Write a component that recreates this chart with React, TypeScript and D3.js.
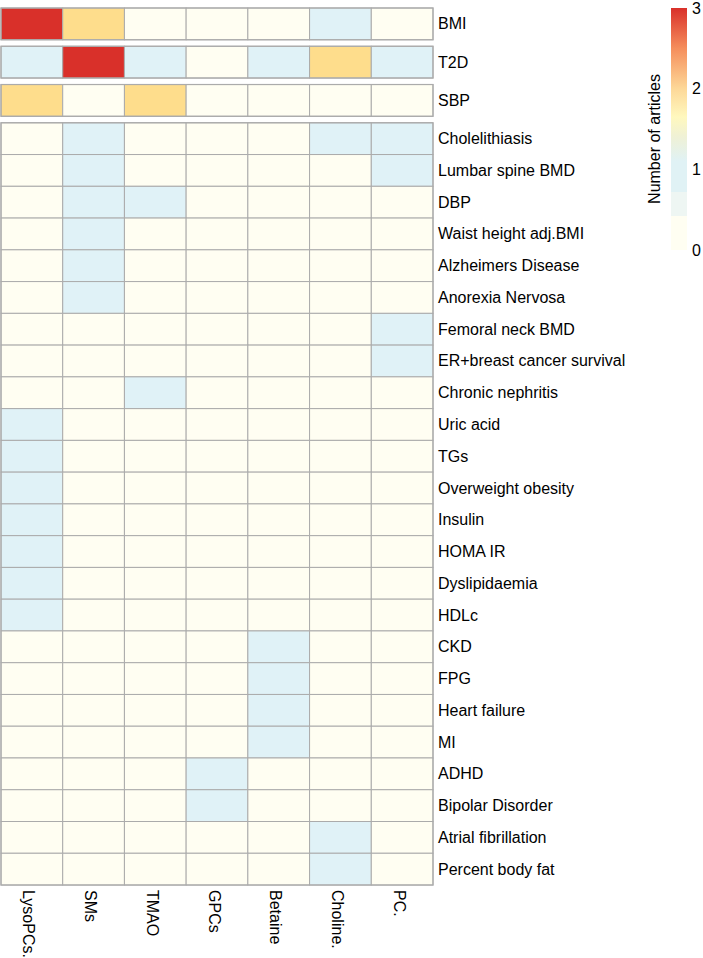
import React from "react";
import * as d3 from "d3";

const columns = ["LysoPCs.", "SMs", "TMAO", "GPCs", "Betaine", "Choline.", "PC."];

const rows = [
  "BMI", "T2D", "SBP",
  "Cholelithiasis", "Lumbar spine BMD", "DBP", "Waist height adj.BMI", "Alzheimers Disease",
  "Anorexia Nervosa", "Femoral neck BMD", "ER+breast cancer survival", "Chronic nephritis",
  "Uric acid", "TGs", "Overweight obesity", "Insulin", "HOMA IR", "Dyslipidaemia", "HDLc",
  "CKD", "FPG", "Heart failure", "MI", "ADHD", "Bipolar Disorder", "Atrial fibrillation",
  "Percent body fat",
];

// group (split) of each row
const rowGroups = [0, 1, 2, 3, 3, 3, 3, 3, 3, 3, 3, 3, 3, 3, 3, 3, 3, 3, 3, 3, 3, 3, 3, 3, 3, 3, 3];

// values[row][col]
const values = [
  [3, 2, 0, 0, 0, 1, 0],
  [1, 3, 1, 0, 1, 2, 1],
  [2, 0, 2, 0, 0, 0, 0],
  [0, 1, 0, 0, 0, 1, 1],
  [0, 1, 0, 0, 0, 0, 1],
  [0, 1, 1, 0, 0, 0, 0],
  [0, 1, 0, 0, 0, 0, 0],
  [0, 1, 0, 0, 0, 0, 0],
  [0, 1, 0, 0, 0, 0, 0],
  [0, 0, 0, 0, 0, 0, 1],
  [0, 0, 0, 0, 0, 0, 1],
  [0, 0, 1, 0, 0, 0, 0],
  [1, 0, 0, 0, 0, 0, 0],
  [1, 0, 0, 0, 0, 0, 0],
  [1, 0, 0, 0, 0, 0, 0],
  [1, 0, 0, 0, 0, 0, 0],
  [1, 0, 0, 0, 0, 0, 0],
  [1, 0, 0, 0, 0, 0, 0],
  [1, 0, 0, 0, 0, 0, 0],
  [0, 0, 0, 0, 1, 0, 0],
  [0, 0, 0, 0, 1, 0, 0],
  [0, 0, 0, 0, 1, 0, 0],
  [0, 0, 0, 0, 1, 0, 0],
  [0, 0, 0, 1, 0, 0, 0],
  [0, 0, 0, 1, 0, 0, 0],
  [0, 0, 0, 0, 0, 1, 0],
  [0, 0, 0, 0, 0, 1, 0],
];

const cellColors = ["#FFFEF2", "#E0F2F7", "#FEDD8C", "#D9302A"];
const legendTicks = [0, 1, 2, 3];

// legend gradient stops [value, color]
const legendStops: [number, string][] = [
  [0, "#FFFEF2"], [0.42, "#FFFEF2"], [0.42, "#EEF6F3"], [0.72, "#EEF6F3"],
  [0.72, "#E0F2F5"], [1.1, "#E0F2F5"], [1.4, "#EFF1D6"], [1.65, "#FFF8BE"],
  [2, "#FDD898"], [2.5, "#F58E5C"], [3, "#D9302A"],
];

const FONT = "'Liberation Sans', Arial, Helvetica, sans-serif";
const FS = 16;

export default function App() {
  const W = 703, H = 958;
  const left = 1, right = 433, top = 8;
  const rowH = 31.76, gap = 6.5;

  const x = d3.scaleBand<string>().domain(columns).range([left, right]).padding(0);
  const yTop = (i: number) => top + i * rowH + rowGroups[i] * gap;
  const color = d3.scaleOrdinal<number, string>().domain([0, 1, 2, 3]).range(cellColors);

  const nGroups = d3.max(rowGroups)! + 1;
  const groupExtents = d3.range(nGroups).map((g) => {
    const idx = rows.map((_, i) => i).filter((i) => rowGroups[i] === g);
    return { y0: yTop(idx[0]), y1: yTop(idx[idx.length - 1]) + rowH };
  });

  const legY = d3.scaleLinear().domain([0, 3]).range([250, 8]);
  const legX = 671, legW = 16;
  const bottom = groupExtents[nGroups - 1].y1;

  return (
    <svg width={W} height={H} style={{ position: "absolute", left: 0, top: 0 }} fontFamily={FONT}>
      <defs>
        <linearGradient id="leg" x1="0" y1="1" x2="0" y2="0">
          {legendStops.map(([v, c], i) => (
            <stop key={i} offset={v / 3} stopColor={c} />
          ))}
        </linearGradient>
      </defs>
      <rect width={W} height={H} fill="#fff" />
      {rows.map((r, i) =>
        columns.map((c, j) => (
          <rect
            key={r + c}
            x={x(c)}
            y={yTop(i)}
            width={x.bandwidth()}
            height={rowH}
            fill={color(values[i][j])}
            stroke="#ABABAB"
            strokeWidth={1}
          />
        ))
      )}
      {groupExtents.map((g, k) => (
        <rect key={k} x={left} y={g.y0} width={right - left} height={g.y1 - g.y0}
          fill="none" stroke="#ABABAB" strokeWidth={1.2} />
      ))}
      {rows.map((r, i) => (
        <text key={r} x={438} y={yTop(i) + rowH / 2} dominantBaseline="central" fontSize={FS} fill="#000">
          {r}
        </text>
      ))}
      {columns.map((c) => (
        <text key={c} transform={`translate(${x(c)! + x.bandwidth() / 2 - 3},${bottom + 5}) rotate(90)`}
          dominantBaseline="central" fontSize={FS} fill="#000">
          {c}
        </text>
      ))}
      <rect x={legX} y={legY(3)} width={legW} height={legY(0) - legY(3)} fill="url(#leg)" />
      {legendTicks.map((t) => (
        <text key={t} x={legX + legW + 5} y={legY(t)} dominantBaseline="central" fontSize={FS} fill="#000">
          {t}
        </text>
      ))}
      <text transform={`translate(654,${(legY(0) + legY(3)) / 2 + 10}) rotate(-90)`} textAnchor="middle"
        dominantBaseline="central" fontSize={FS} fill="#000">
        Number of articles
      </text>
    </svg>
  );
}
